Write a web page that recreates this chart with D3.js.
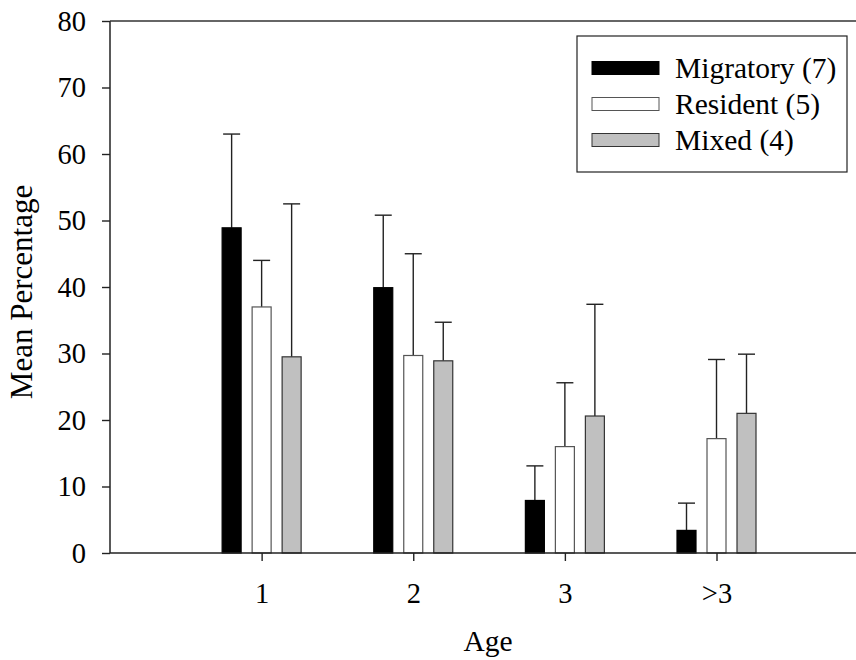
<!DOCTYPE html>
<html>
<head>
<meta charset="utf-8">
<style>
  body { margin: 0; background: #fff; }
  text { font-family: "Liberation Serif", "Times New Roman", serif; fill: #000; }
</style>
</head>
<body>
<script src="https://cdn.jsdelivr.net/npm/d3@7"></script>
<script>
// data
const ages = ["1", "2", "3", ">3"];
const seriesNames = ["Migratory (7)", "Resident (5)", "Mixed (4)"];
const migratory = [48.9, 39.9, 7.9, 3.4];
const migratoryErr = [14.1, 10.9, 5.2, 4.1];
const resident = [37.0, 29.7, 16.0, 17.2];
const residentErr = [7.0, 15.3, 9.6, 11.9];
const mixed = [29.5, 28.9, 20.6, 21.0];
const mixedErr = [23.0, 5.8, 16.8, 8.9];
const yTicks = [0, 10, 20, 30, 40, 50, 60, 70, 80];

const fills = ["#000000", "#ffffff", "#c0c0c0"];
const strokes = ["#000000", "#555555", "#333333"];

const W = 856, H = 660;
const plotLeft = 110, plotTop = 21, plotBottom = 553;

const svg = d3.select("body").append("svg")
    .attr("width", W)
    .attr("height", H);

// group position on a linear scale, bars offset inside each group
const x = d3.scaleLinear().domain([0, 4.92]).range([plotLeft, W]);
const xInner = d3.scaleBand()
    .domain(seriesNames)
    .range([-45, 45])
    .paddingInner(0.3667)
    .paddingOuter(0.1833);
const y = d3.scaleLinear().domain([0, 80]).range([plotBottom, plotTop]);

const means = [migratory, resident, mixed];
const errs = [migratoryErr, residentErr, mixedErr];

const rows = [];
seriesNames.forEach((s, si) => {
    ages.forEach((a, ai) => {
        rows.push({series: s, si: si, age: a, ai: ai, v: means[si][ai], e: errs[si][ai]});
    });
});

// error bars (drawn first so bars sit on top)
const eb = svg.append("g").attr("stroke", "#222").attr("stroke-width", 1.4);
rows.forEach(d => {
    const cx = x(d.ai + 1) + xInner(d.series) + xInner.bandwidth() / 2;
    eb.append("line")
        .attr("x1", cx).attr("x2", cx)
        .attr("y1", y(d.v)).attr("y2", y(d.v + d.e));
    eb.append("line")
        .attr("x1", cx - 8.5).attr("x2", cx + 8.5)
        .attr("y1", y(d.v + d.e)).attr("y2", y(d.v + d.e));
});

svg.append("g").selectAll("rect")
    .data(rows)
    .enter()
    .append("rect")
        .attr("x", d => x(d.ai + 1) + xInner(d.series))
        .attr("width", xInner.bandwidth())
        .attr("y", d => y(d.v))
        .attr("height", d => y(0) - y(d.v))
        .attr("fill", d => fills[d.si])
        .attr("stroke", d => strokes[d.si])
        .attr("stroke-width", 1.2);

// axes
const yAxis = svg.append("g")
    .attr("transform", "translate(" + plotLeft + ",0)")
    .call(d3.axisLeft(y).tickValues(yTicks).tickSize(8).tickPadding(16));
const xAxis = svg.append("g")
    .attr("transform", "translate(0," + plotBottom + ")")
    .call(d3.axisBottom(x).tickValues([1, 2, 3, 4]).tickFormat(d => ages[d - 1]).tickSize(8).tickPadding(22));
[yAxis, xAxis].forEach(g => {
    g.select(".domain").attr("stroke", "#222").attr("stroke-width", 1.5);
    g.selectAll(".tick line").attr("stroke", "#222").attr("stroke-width", 1.4);
    g.selectAll("text").attr("font-size", 28.5).attr("font-family", "Liberation Serif");
});
xAxis.select(".domain").attr("d", "M" + plotLeft + ",0H" + W);
yAxis.select(".domain").attr("d", "M0," + plotTop + "V" + plotBottom);

// top frame line
svg.append("line")
    .attr("x1", plotLeft).attr("x2", W)
    .attr("y1", y(80)).attr("y2", y(80))
    .attr("stroke", "#333").attr("stroke-width", 1.5);

// axis titles
svg.append("text")
    .attr("x", 488).attr("y", 651)
    .attr("text-anchor", "middle")
    .attr("font-size", 29.5)
    .text("Age");
svg.append("text")
    .attr("transform", "translate(32,292) rotate(-90)")
    .attr("text-anchor", "middle")
    .attr("font-size", 31)
    .text("Mean Percentage");

// legend
const lg = svg.append("g");
lg.append("rect")
    .attr("x", 577).attr("y", 36)
    .attr("width", 270).attr("height", 136)
    .attr("fill", "#fff").attr("stroke", "#222").attr("stroke-width", 1.2);
seriesNames.forEach((s, i) => {
    const cy = 68 + i * 36;
    lg.append("rect")
        .attr("x", 592).attr("y", cy - 6.5)
        .attr("width", 67).attr("height", 13)
        .attr("fill", fills[i])
        .attr("stroke", strokes[i]).attr("stroke-width", 1);
    lg.append("text")
        .attr("x", 675).attr("y", cy)
        .attr("dy", "0.35em")
        .attr("font-size", 29.5)
        .text(s);
});
</script>
</body>
</html>
